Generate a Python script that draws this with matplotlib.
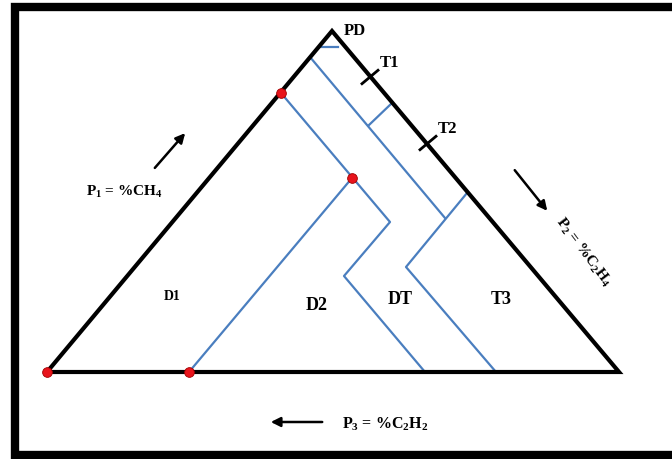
import matplotlib.pyplot as plt
import matplotlib as mpl

mpl.rcParams['font.family'] = 'serif'
mpl.rcParams['font.serif'] = ['Liberation Serif', 'DejaVu Serif']
mpl.rcParams['mathtext.fontset'] = 'custom'
mpl.rcParams['mathtext.rm'] = 'Liberation Serif:bold'
mpl.rcParams['mathtext.it'] = 'Liberation Serif:bold'
mpl.rcParams['mathtext.bf'] = 'Liberation Serif:bold'

# diagram geometry, in picture pixels (x right, y down)
triangle_x = [47, 332, 619, 47]
triangle_y = [372, 31, 372, 372]

# zone boundaries
pd_x = [320, 338]
pd_y = [47, 47]
d1_d2_x = [189, 352]
d1_d2_y = [372, 178]
d2_dt_x = [281, 390, 344, 425]
d2_dt_y = [93, 222, 276, 372]
dt_t_x = [310, 445]
dt_t_y = [57, 218]
t3_x = [467, 406, 496]
t3_y = [193, 267, 372]
t1_t2_x = [392, 369]
t1_t2_y = [103, 125]

# limit points
dots_x = [47, 189, 281, 352]
dots_y = [372, 372, 93, 178]

# ticks on right side
tick_names = ['T1', 'T2']
tick_x = [370, 428]
tick_y = [77, 143]

zone_names = ['D1', 'D2', 'DT', 'T3']
zone_x = [172, 317, 400, 501]
zone_y = [297, 306, 300, 299]
zone_size = [10, 13, 13, 13]

blue = '#4a7ebf'

fig = plt.figure(figsize=(6.72, 4.59), dpi=100)
ax = fig.add_axes([0, 0, 1, 1])
ax.set_xlim(0, 672)
ax.set_ylim(459, 0)
ax.axis('off')

# frame
ax.plot([672, 15, 15, 672], [7, 7, 455, 455], color='black', lw=6,
        solid_joinstyle='miter')

for xs, ys in [(pd_x, pd_y), (d1_d2_x, d1_d2_y), (d2_dt_x, d2_dt_y),
               (dt_t_x, dt_t_y), (t3_x, t3_y), (t1_t2_x, t1_t2_y)]:
    ax.plot(xs, ys, color=blue, lw=1.6)

ax.plot(triangle_x, triangle_y, color='black', lw=3, solid_joinstyle='miter')

# ticks perpendicular to the right side
for name, tx, ty in zip(tick_names, tick_x, tick_y):
    ax.plot([tx - 8, tx + 8], [ty + 6.7, ty - 6.7], color='black', lw=2)
    ax.text(tx + 19, ty - 14, name, fontsize=12, fontweight='bold',
            ha='center', va='center')

ax.plot(dots_x, dots_y, 'o', color='#e8141c', markersize=7,
        markeredgecolor='#a00000', markeredgewidth=0.6, zorder=5)

ax.text(355, 31, 'PD', fontsize=12, fontweight='bold', ha='center', va='center')

for name, zx, zy, fs in zip(zone_names, zone_x, zone_y, zone_size):
    ax.text(zx, zy, name, fontsize=fs, fontweight='bold', ha='center', va='center')

# axis labels with arrows
arr = dict(arrowstyle='-|>', color='black', lw=1.8, mutation_scale=14)
ax.annotate('', xy=(187, 131), xytext=(153, 170), arrowprops=arr)
ax.text(124, 192, r'$\mathrm{P_1}$ = %CH$_4$', fontsize=11, fontweight='bold',
        ha='center', va='center')

ax.annotate('', xy=(549, 213), xytext=(513, 168), arrowprops=arr)
ax.text(583, 252, r'$\mathrm{P_2}$ = %C$_2$H$_4$', fontsize=11, fontweight='bold',
        ha='center', va='center', rotation=-53)

ax.annotate('', xy=(268, 422), xytext=(325, 422), arrowprops=arr)
ax.text(385, 424, r'$\mathrm{P_3}$ = %C$_2$H$_2$', fontsize=11.5, fontweight='bold',
        ha='center', va='center')

fig.savefig('out.png', dpi=100)
